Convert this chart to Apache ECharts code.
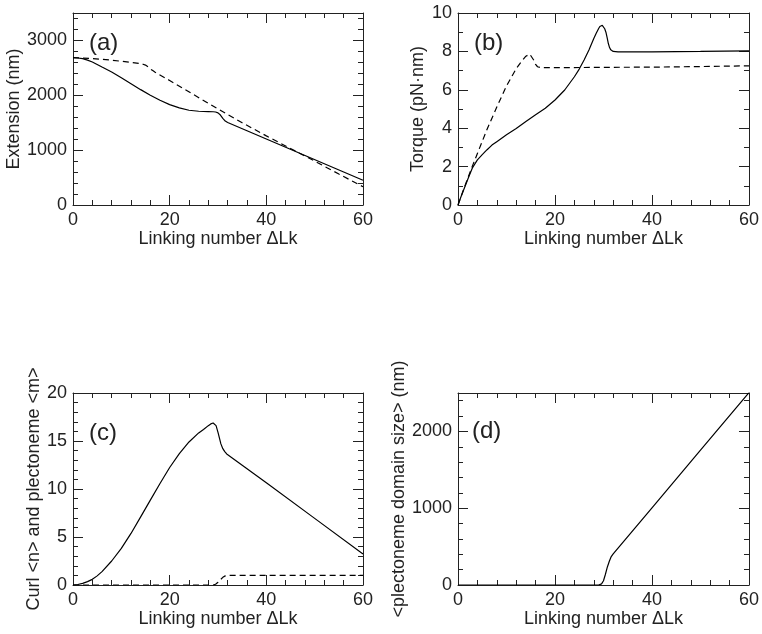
<!DOCTYPE html>
<html>
<head>
<meta charset="utf-8">
<script src="https://cdn.jsdelivr.net/npm/echarts@6/dist/echarts.min.js"></script>
<style>html,body{margin:0;padding:0;background:#fff;}#c{width:762px;height:634px;}</style>
</head>
<body>
<div id="c"></div>
<script>
// ---- data ----
const xTicks = [0, 20, 40, 60];
const panelLabels = ['(a)', '(b)', '(c)', '(d)'];
const xName = 'Linking number \u0394Lk';
const yNames = ['Extension (nm)', 'Torque (pN\u00b7nm)', 'Curl <n> and plectoneme <m>', '<plectoneme domain size> (nm)'];

// (a) extension
const aSolidX = [0,1,2,3,4,5,6,8,10,12,14,16,18,20,22,24,26,28,29,29.5,30,30.5,31,31.5,32,36,40,44,48,52,56,60];
const aSolidY = [2685,2680,2667,2640,2606,2562,2515,2424,2321,2212,2103,2000,1909,1830,1770,1727,1709,1703,1700,1695,1680,1640,1580,1530,1505,1354,1204,1053,902,751,601,450];
const aDashX = [0,4,8,12,14,14.5,15,15.5,16,16.5,17,20,25,30,35,40,45,50,55,60];
const aDashY = [2685,2670,2640,2600,2575,2565,2550,2520,2480,2450,2420,2270,2010,1750,1500,1260,1030,800,565,333];

// (b) torque
const bSolidX = [0,0.5,1,2,3,4,5,6,7,8,10,12,14,16,18,20,22,24,25,26,27,28,28.5,29,29.25,29.5,29.75,30,30.25,30.5,30.75,31,31.25,31.5,31.75,32,33,40,50,60];
const bSolidY = [0,0.35,0.68,1.33,1.95,2.35,2.62,2.88,3.12,3.3,3.66,3.98,4.35,4.7,5.04,5.47,5.99,6.68,7.08,7.55,8.07,8.67,8.95,9.19,9.3,9.36,9.36,9.3,9.18,9.0,8.72,8.41,8.2,8.08,8.03,8.0,7.98,7.98,8.0,8.03];
const bDashX = [0,1,2,3,4,6,8,10,12,13,14,14.4,14.8,15.2,15.6,16,16.4,16.8,17.2,20,30,40,50,60];
const bDashY = [0,0.7,1.38,2.05,2.68,3.95,5.1,6.2,7.1,7.45,7.75,7.83,7.86,7.78,7.55,7.32,7.2,7.16,7.15,7.15,7.17,7.18,7.21,7.25];

// (c) curl / plectoneme number
const cSolidX = [0,1,2,3,4,5,6,8,10,12,14,16,18,20,22,24,26,27,28,28.5,29,29.3,29.6,30,30.3,30.6,31,31.4,31.8,40,50,60];
const cSolidY = [0,0.05,0.17,0.35,0.59,0.95,1.39,2.5,3.81,5.37,7.1,8.84,10.57,12.24,13.69,14.9,15.84,16.2,16.6,16.78,16.87,16.85,16.6,15.9,15.3,14.7,14.2,13.9,13.65,10.64,6.94,3.23];
const cDashX = [0,29,29.5,30,30.5,31,31.5,32,60];
const cDashY = [0,0,0.08,0.28,0.55,0.8,0.95,1.0,1.0];

// (d) plectoneme domain size
const dSolidX = [0,29,29.3,29.6,30,30.4,30.8,31.2,31.6,32,40,50,60];
const dSolidY = [0,0,2,15,55,140,235,310,370,405,1005,1755,2505];

// y-axis ranges: [min, max, major, minor]
const yRanges = [[0,3500,1000,200],[0,10,2,1],[0,20,5,1],[0,2500,1000,200]];
const yShowMax = [false, true, true, false];

// ---- layout ----
const FONT = 'Liberation Sans';
const INK = '#222';
const grids = [
  {left:73, top:13, width:290, height:192},
  {left:458, top:13, width:291, height:192},
  {left:73, top:393, width:290, height:192},
  {left:458, top:393, width:291, height:192}
];
const yGaps = [41, 31, 30, 49];
const labelPos = [[89,43],[474,43],[89,433],[472,431]];

const xAxes = [], yAxes = [];
const mainX = [], mainY = [];
function axisBase(gi, pos, min, max, interval, tickLen, showLine, showLabel, showMax) {
  return {
    gridIndex: gi, type: 'value', position: pos, min: min, max: max, interval: interval,
    axisLine: {show: showLine, onZero: false, lineStyle: {color: INK, width: 1}},
    axisTick: {show: true, inside: true, length: tickLen, lineStyle: {color: INK, width: 1}},
    minorTick: {show: false}, splitLine: {show: false}, minorSplitLine: {show: false},
    axisLabel: {show: showLabel, showMaxLabel: showMax, showMinLabel: true, margin: 6, fontSize: 18,
      color: INK, fontFamily: FONT, formatter: v => String(v)},
    nameTextStyle: {fontSize: 18, color: INK, fontFamily: FONT},
    silent: true
  };
}
grids.forEach((g, gi) => {
  const xb = axisBase(gi, 'bottom', 0, 60, 20, 10, true, true, true);
  xb.name = xName; xb.nameLocation = 'middle'; xb.nameGap = 21;
  mainX.push(xAxes.length); xAxes.push(xb);
  xAxes.push(axisBase(gi, 'bottom', 0, 60, 4, 5, false, false, false));
  xAxes.push(axisBase(gi, 'top', 0, 60, 20, 10, true, false, false));
  xAxes.push(axisBase(gi, 'top', 0, 60, 4, 5, false, false, false));
  const r = yRanges[gi];
  const yl = axisBase(gi, 'left', r[0], r[1], r[2], 10, true, true, yShowMax[gi]);
  yl.name = yNames[gi]; yl.nameLocation = 'middle'; yl.nameGap = yGaps[gi]; yl.nameRotate = 90;
  mainY.push(yAxes.length); yAxes.push(yl);
  yAxes.push(axisBase(gi, 'left', r[0], r[1], r[3], 5, false, false, false));
  yAxes.push(axisBase(gi, 'right', r[0], r[1], r[2], 10, true, false, false));
  yAxes.push(axisBase(gi, 'right', r[0], r[1], r[3], 5, false, false, false));
});

function zip(xs, ys) { return xs.map((x, i) => [x, ys[i]]); }
function line(gi, xs, ys, dashed) {
  return {
    type: 'line', xAxisIndex: mainX[gi], yAxisIndex: mainY[gi],
    data: zip(xs, ys), showSymbol: false, smooth: false,
    lineStyle: {color: '#000', width: 1.2, type: dashed ? [6, 4] : 'solid'},
    silent: true, animation: false
  };
}
const series = [
  line(0, aSolidX, aSolidY, false), line(0, aDashX, aDashY, true),
  line(1, bSolidX, bSolidY, false), line(1, bDashX, bDashY, true),
  line(2, cSolidX, cSolidY, false), line(2, cDashX, cDashY, true),
  line(3, dSolidX, dSolidY, false)
];

const graphic = panelLabels.map((t, i) => ({
  type: 'text', x: labelPos[i][0], y: labelPos[i][1], silent: true,
  style: {text: t, fontSize: 24, fontFamily: FONT, fill: INK, verticalAlign: 'middle', align: 'left'}
}));

const chart = echarts.init(document.getElementById('c'), null, {renderer: 'canvas'});
chart.setOption({
  animation: false,
  backgroundColor: '#fff',
  grid: grids,
  xAxis: xAxes,
  yAxis: yAxes,
  series: series,
  graphic: graphic
});
</script>
</body>
</html>
